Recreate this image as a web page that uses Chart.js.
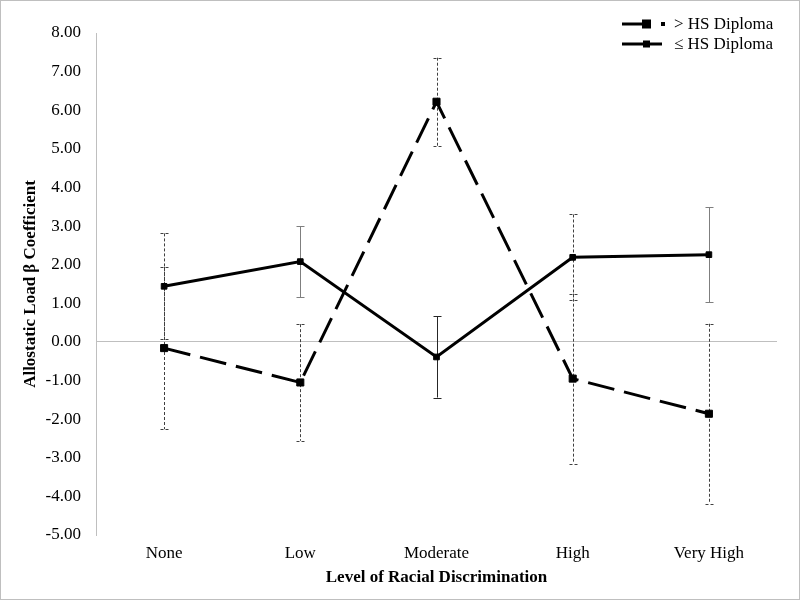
<!DOCTYPE html>
<html>
<head>
<meta charset="utf-8">
<script src="https://cdn.jsdelivr.net/npm/chart.js@4/dist/chart.umd.min.js"></script>
<style>
html,body{margin:0;padding:0;background:#fff;}
#wrap{width:800px;height:600px;position:relative;}
</style>
</head>
<body>
<div id="wrap"><canvas id="c" width="800" height="600"></canvas></div>
<script>
const categories = ['None', 'Low', 'Moderate', 'High', 'Very High'];
const seriesLabels = ['> HS Diploma', '\u2264 HS Diploma'];
const aboveHS = [-0.16, -1.05, 6.22, -0.95, -1.86];
const aboveHSErr = [2.10, 1.51, 1.14, 2.20, 2.33];
const atOrBelowHS = [1.44, 2.08, -0.39, 2.19, 2.26];
const atOrBelowHSErr = [1.37, 0.92, 1.05, 1.11, 1.23];
const yMin = -5, yMax = 8, yStep = 1;
const xTitle = 'Level of Racial Discrimination';
const yTitle = 'Allostatic Load \u03b2 Coefficient';

const FONT = "'Liberation Serif', 'Times New Roman', serif";

const errorBarPlugin = {
  id: 'errorBars',
  beforeDatasetsDraw(chart) {
    const ctx = chart.ctx;
    const y = chart.scales.y;
    chart.data.datasets.forEach((ds, di) => {
      const meta = chart.getDatasetMeta(di);
      const errs = ds.errors;
      const dashedIdx = ds.errDashedIdx || [];
      meta.data.forEach((pt, i) => {
        const v = ds.data[i], e = errs[i];
        const x = pt.x;
        const yt = y.getPixelForValue(v + e);
        const yb = y.getPixelForValue(v - e);
        const dashed = ds.errAllDashed || dashedIdx.includes(i);
        ctx.save();
        ctx.lineWidth = 1;
        ctx.strokeStyle = dashed ? '#404040' : (ds.errColor ? ds.errColor[i] : '#7f7f7f');
        ctx.setLineDash(dashed ? [3, 2] : []);
        const xx = Math.round(x) + 0.5;
        ctx.beginPath();
        ctx.moveTo(xx, yt); ctx.lineTo(xx, yb);
        ctx.moveTo(xx - 4, Math.round(yt) + 0.5); ctx.lineTo(xx + 4, Math.round(yt) + 0.5);
        ctx.moveTo(xx - 4, Math.round(yb) + 0.5); ctx.lineTo(xx + 4, Math.round(yb) + 0.5);
        ctx.stroke();
        ctx.restore();
      });
    });
  }
};

const legendBorderPlugin = {
  id: 'legendBorder',
  afterDraw(chart) {
    const ctx = chart.ctx;
    ctx.save();
    ctx.strokeStyle = '#bfbfbf';
    ctx.lineWidth = 1;
    ctx.strokeRect(0.5, 0.5, 799, 599);
    ctx.font = '17px ' + FONT;
    ctx.fillStyle = '#000';
    ctx.textBaseline = 'middle';
    ctx.textAlign = 'left';
    let ly = 24;
    ctx.strokeStyle = '#000';
    ctx.lineWidth = 3;
    ctx.setLineDash([]);
    ctx.beginPath(); ctx.moveTo(622, ly); ctx.lineTo(645, ly); ctx.stroke();
    ctx.fillRect(642, ly - 4.5, 9, 9);
    ctx.fillRect(661, ly - 2, 4, 4);
    ctx.fillText(chart.data.datasets[0].label, 674, ly + 1);
    ly = 44;
    ctx.beginPath(); ctx.moveTo(622, ly); ctx.lineTo(662, ly); ctx.stroke();
    ctx.fillRect(643, ly - 3.5, 7, 7);
    ctx.fillText(chart.data.datasets[1].label, 674, ly + 1);
    ctx.restore();
  }
};

new Chart(document.getElementById('c'), {
  type: 'line',
  data: {
    labels: categories,
    datasets: [
      {
        label: seriesLabels[0],
        data: aboveHS,
        errors: aboveHSErr,
        errAllDashed: true,
        borderColor: '#000',
        backgroundColor: '#000',
        borderWidth: 3,
        borderDash: [27, 10],
        pointStyle: 'rect',
        pointRadius: 5,
        pointBorderWidth: 1,
        pointBackgroundColor: '#000',
        pointBorderColor: '#000',
        tension: 0,
        fill: false
      },
      {
        label: seriesLabels[1],
        data: atOrBelowHS,
        errors: atOrBelowHSErr,
        errDashedIdx: [0, 3],
        errColor: ['#404040', '#7f7f7f', '#262626', '#404040', '#7f7f7f'],
        borderColor: '#000',
        backgroundColor: '#000',
        borderWidth: 3,
        pointStyle: 'rect',
        pointRadius: 4,
        pointBorderWidth: 1,
        pointBackgroundColor: '#000',
        pointBorderColor: '#000',
        tension: 0,
        fill: false
      }
    ]
  },
  options: {
    responsive: false,
    animation: false,
    devicePixelRatio: 1,
    layout: { padding: { top: 33, right: 23, left: 0, bottom: 0 } },
    plugins: {
      legend: { display: false },
      tooltip: { enabled: false }
    },
    scales: {
      x: {
        offset: true,
        grid: { display: false, drawTicks: false },
        border: { display: false },
        ticks: { color: '#000', font: { family: FONT, size: 17 }, padding: 8 },
        title: { display: true, text: xTitle, color: '#000', font: { family: FONT, size: 17, weight: 'bold' }, padding: { top: 2, bottom: 12 } },
        afterFit(s) { s.height = 65; }
      },
      y: {
        min: yMin, max: yMax,
        ticks: {
          stepSize: yStep,
          color: '#000',
          font: { family: FONT, size: 17 },
          padding: 15,
          callback: v => v.toFixed(2)
        },
        grid: {
          drawTicks: false,
          color: c => (c.tick && c.tick.value === 0) ? '#bfbfbf' : 'rgba(0,0,0,0)',
          lineWidth: 1
        },
        border: { display: true, color: '#bfbfbf', width: 1 },
        title: { display: true, text: yTitle, color: '#000', font: { family: FONT, size: 17, weight: 'bold' }, padding: { top: 20, bottom: 0 } },
        afterFit(s) { s.width = 96; }
      }
    }
  },
  plugins: [errorBarPlugin, legendBorderPlugin]
});
</script>
</body>
</html>
